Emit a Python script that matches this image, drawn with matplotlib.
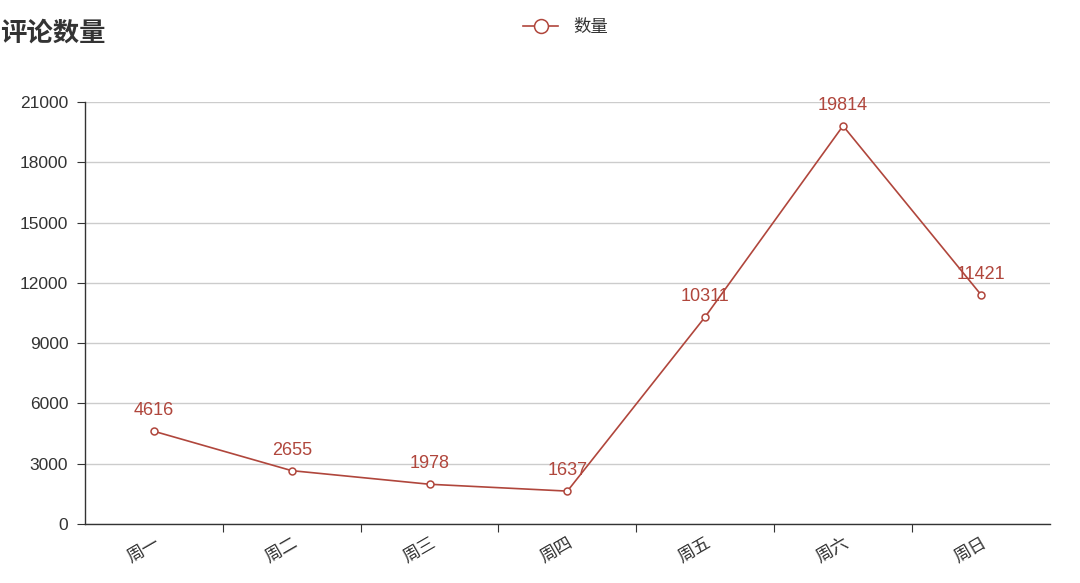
import matplotlib.pyplot as plt
import numpy as np

plt.rcParams['font.family'] = ['Noto Sans CJK SC', 'DejaVu Sans']

days = ["周一", "周二", "周三", "周四", "周五", "周六", "周日"]
counts = [4616, 2655, 1978, 1637, 10311, 19814, 11421]
y_ticks = [0, 3000, 6000, 9000, 12000, 15000, 18000, 21000]

LINE = "#b0463c"
TEXT = "#333333"

fig = plt.figure(figsize=(10.8, 5.83), dpi=100)
ax = fig.add_axes([0.0787, 0.1012, 0.8933, 0.7238])

x = np.arange(len(days))
ax.plot(x, counts, color=LINE, lw=1.2, marker="o", ms=5,
        mfc="white", mec=LINE, mew=1.1, label="数量", zorder=3)
for xi, v in zip(x, counts):
    ax.annotate(str(v), (xi, v), xytext=(0, 8.5), textcoords="offset points",
                ha="center", va="bottom", color=LINE, fontsize=13,
                family=["Liberation Sans", "DejaVu Sans"])

ax.set_xlim(-0.5, len(days) - 0.5)
ax.set_ylim(0, 21000)
ax.set_yticks(y_ticks)
ax.set_yticklabels([str(t) for t in y_ticks], fontsize=12.5, color=TEXT,
                   family=["Liberation Sans", "DejaVu Sans"])
ax.grid(axis="y", color="#cccccc", lw=1)
ax.set_axisbelow(True)

# ticks between categories, labels under the points
ax.set_xticks(np.arange(0.5, len(days) - 1, 1))
ax.set_xticklabels([])
ax.set_xticks(x, minor=True)
ax.set_xticklabels(days, minor=True, rotation=30, fontsize=12.5, color=TEXT,
                   ha="right", rotation_mode="anchor")
ax.tick_params(axis="x", which="minor", length=0, pad=7)
ax.tick_params(axis="x", which="major", length=6, color=TEXT, direction="out")
ax.tick_params(axis="y", length=6, color=TEXT, pad=6)

for s in ["top", "right"]:
    ax.spines[s].set_visible(False)
for s in ["left", "bottom"]:
    ax.spines[s].set_color(TEXT)
    ax.spines[s].set_linewidth(1)

fig.text(0.0, 0.944, "评论数量", fontsize=19, fontweight="bold", color=TEXT,
         ha="left", va="center")
fig.legend(loc="center", bbox_to_anchor=(0.524, 0.953), frameon=False,
           fontsize=12.5, handlelength=2.0, handletextpad=0.9,
           markerscale=2.0, labelcolor=TEXT)

fig.savefig("out.png", dpi=100)
